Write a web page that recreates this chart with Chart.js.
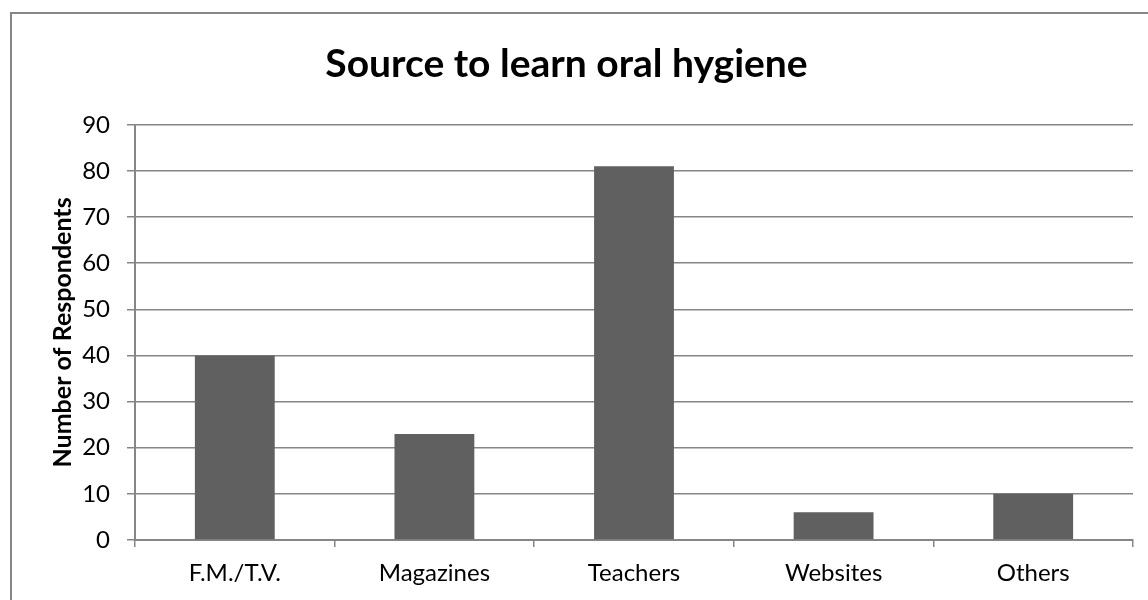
<!DOCTYPE html>
<html>
<head>
<meta charset="utf-8">
<title>Source to learn oral hygiene</title>
<script src="https://cdn.jsdelivr.net/npm/chart.js@4/dist/chart.umd.min.js"></script>
<style>
  html, body { margin: 0; padding: 0; background: #fff; }
  #wrap { width: 1148px; height: 600px; position: relative; }
</style>
</head>
<body>
<div id="wrap"><canvas id="myChart" width="1148" height="600"></canvas></div>
<script>
// datos
const sources = ['F.M./T.V.', 'Magazines', 'Teachers', 'Websites', 'Others'];
const respondents = [40, 23, 81, 6, 10];
const yTicks = [0, 10, 20, 30, 40, 50, 60, 70, 80, 90];

const gridColor = '#868686';
const barColor = '#606060';
const fontFamily = 'Lato, "Open Sans", sans-serif';

// marco exterior del grafico
const frame = {
  id: 'frame',
  beforeDraw(chart) {
    const ctx = chart.ctx;
    ctx.save();
    ctx.fillStyle = '#fff';
    ctx.fillRect(0, 0, chart.width, chart.height);
    ctx.strokeStyle = gridColor;
    ctx.lineWidth = 2;
    ctx.strokeRect(11, 13, 1200, 700);
    ctx.restore();
  }
};

new Chart('myChart', {
  type: 'bar',
  data: {
    labels: sources,
    datasets: [{
      label: 'Number of Respondents',
      data: respondents,
      backgroundColor: barColor,
      categoryPercentage: 1,
      barPercentage: 0.4
    }]
  },
  plugins: [frame],
  options: {
    responsive: false,
    animation: false,
    layout: { padding: { left: 0, right: 15, top: 0, bottom: 0 } },
    plugins: {
      legend: { display: false },
      tooltip: { enabled: false },
      title: {
        display: true,
        text: 'Source to learn oral hygiene',
        color: '#000',
        font: { family: fontFamily, size: 39, weight: 'bold' },
        padding: { top: 41, bottom: 37 }
      }
    },
    scales: {
      y: {
        min: 0,
        max: 90,
        afterBuildTicks: (axis) => { axis.ticks = yTicks.map(v => ({ value: v })); },
        afterFit: (axis) => { axis.width = 135; },
        border: { display: true, color: gridColor, width: 2 },
        grid: { color: gridColor, lineWidth: 1.5, tickLength: 8 },
        ticks: { color: '#000', padding: 17, font: { family: fontFamily, size: 24 } },
        title: {
          display: true,
          text: 'Number of Respondents',
          color: '#000',
          font: { family: fontFamily, size: 25, weight: 'bold' },
          padding: { top: 48, bottom: 0 }
        }
      },
      x: {
        afterFit: (axis) => { axis.height = 60; },
        border: { display: true, color: gridColor, width: 2 },
        grid: { offset: true, drawOnChartArea: false, drawTicks: true, tickLength: 7, color: gridColor, lineWidth: 1.5 },
        ticks: { color: '#000', padding: 12, maxRotation: 0, font: { family: fontFamily, size: 24 } }
      }
    }
  }
});
</script>
</body>
</html>
